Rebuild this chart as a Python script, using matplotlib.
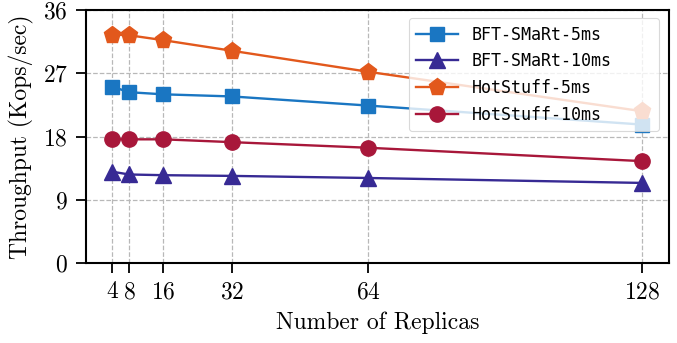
import numpy as np
import matplotlib
matplotlib.use("Agg")
import matplotlib.pyplot as plt

# data
replicas = [4, 8, 16, 32, 64, 128]
bft_5ms = [25.1, 24.3, 24.0, 23.7, 22.4, 19.7]
bft_10ms = [13.0, 12.6, 12.5, 12.4, 12.1, 11.4]
hs_5ms = [32.5, 32.4, 31.7, 30.2, 27.2, 21.6]
hs_10ms = [17.6, 17.6, 17.6, 17.2, 16.4, 14.5]
yticks = [0, 9, 18, 27, 36]

plt.rcParams['font.family'] = 'serif'
plt.rcParams['font.serif'] = ['cmr10']
plt.rcParams['mathtext.fontset'] = 'cm'
plt.rcParams['axes.formatter.use_mathtext'] = True


def main():
    fig, ax = plt.subplots(figsize=(6.77, 3.43), dpi=100)
    fig.subplots_adjust(left=0.127, right=0.988, top=0.971, bottom=0.233)

    ax.plot(replicas, bft_5ms, label='BFT-SMaRt-5ms', color='#1a76c2', marker='s', markersize=10, lw=1.7)
    ax.plot(replicas, bft_10ms, label='BFT-SMaRt-10ms', color='#372a94', marker='^', markersize=11, lw=1.7)
    ax.plot(replicas, hs_5ms, label='HotStuff-5ms', color='#e2581c', marker='p', markersize=12.5, lw=1.7)
    ax.plot(replicas, hs_10ms, label='HotStuff-10ms', color='#a8173a', marker='o', markersize=11, lw=1.7)

    ax.set_xlim(-2.1, 134.3)
    ax.set_ylim(0, 36)
    ax.set_xticks(replicas)
    ax.set_yticks(yticks)
    ax.grid(True, linestyle='--', color='#b8b8b8', lw=0.9)
    ax.set_axisbelow(True)
    for s in ax.spines.values():
        s.set_linewidth(1.5)
    ax.tick_params(labelsize=17, width=1.3, length=7, pad=6)

    ax.set_xlabel('Number of Replicas', fontsize=17, labelpad=6)
    ax.set_ylabel('Throughput (Kops/sec)', fontsize=17, labelpad=6)

    # legend box is wider than its text in the reference
    leg = ax.legend(loc='upper left', bbox_to_anchor=(0.554, 0.0, 0.429, 0.968), mode='expand',
                    prop={'family': 'DejaVu Sans Mono', 'size': 12},
                    framealpha=0.8, handlelength=2.5, handletextpad=0.8, borderpad=0.45,
                    labelspacing=0.52, borderaxespad=0, edgecolor='#d0d0d0')
    leg.get_frame().set_linewidth(0.8)

    plt.savefig('out.png', dpi=100)


if __name__ == "__main__":
    main()
